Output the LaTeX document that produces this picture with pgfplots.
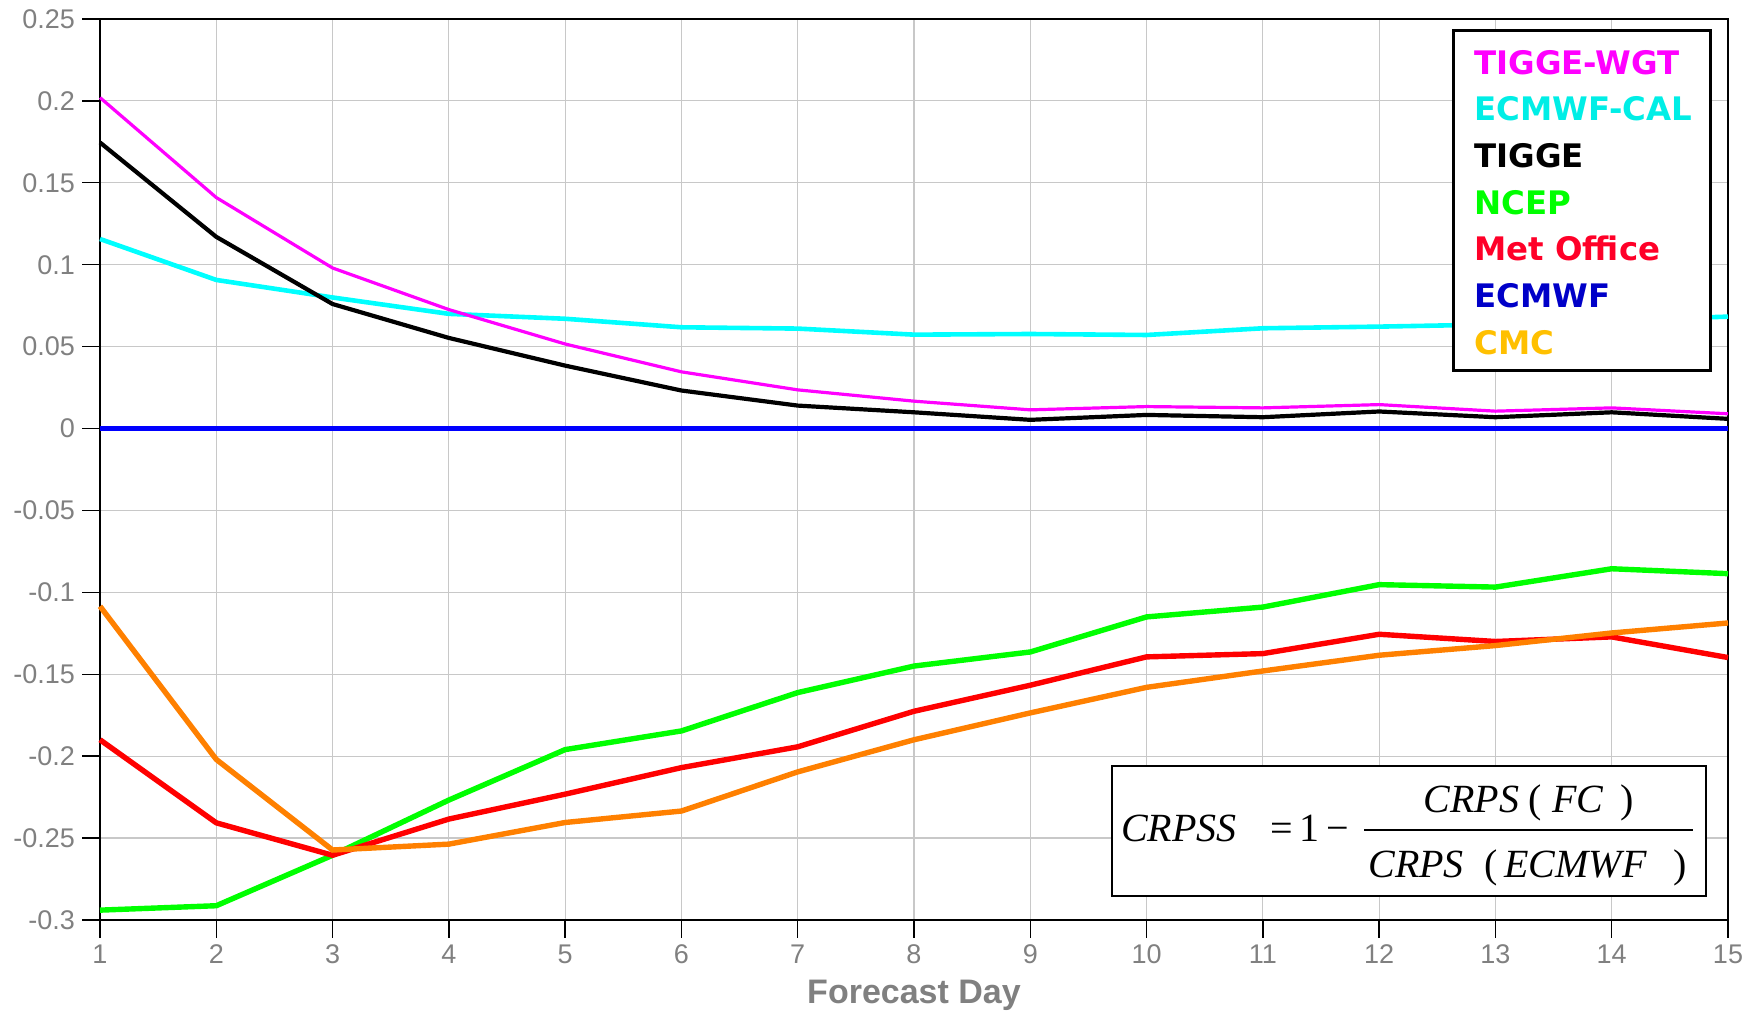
\documentclass[border=0pt]{standalone}
\usepackage{pgfplots}
\pgfplotsset{compat=1.18}
\usepackage{fontspec}
\setmainfont{Liberation Sans}
\newfontfamily\legfont{DejaVu Sans}
\newfontfamily\tnr{Liberation Serif}
\definecolor{tickgray}{RGB}{128,128,128}
\definecolor{gridgray}{RGB}{200,200,200}
\definecolor{cMag}{RGB}{255,0,255}
\definecolor{cCyan}{RGB}{0,255,255}
\definecolor{cGreen}{RGB}{0,255,0}
\definecolor{cRed}{RGB}{255,0,0}
\definecolor{cBlue}{RGB}{0,0,255}
\definecolor{cOrange}{RGB}{255,128,0}
\definecolor{legCyan}{RGB}{0,238,230}
\definecolor{legRed}{RGB}{255,0,40}
\definecolor{legBlue}{RGB}{0,0,200}
\definecolor{legCMC}{RGB}{255,192,0}
\begin{document}
\begin{tikzpicture}
\begin{axis}[name=ax, scale only axis, width=814pt, height=450.5pt,
  /pgf/number format/assume math mode=true,
  xmin=1, xmax=15, ymin=-0.3, ymax=0.25,
  xtick={1,...,15},
  ytick={-0.3,-0.25,-0.2,-0.15,-0.1,-0.05,0,0.05,0.1,0.15,0.2,0.25},
  yticklabels={-0.3,-0.25,-0.2,-0.15,-0.1,-0.05,0,0.05,0.1,0.15,0.2,0.25},
  grid=major, major grid style={gridgray, line width=0.6pt},
  tick align=outside, major tick length=9pt,
  tick style={black, line width=0.7pt},
  xtick pos=left, ytick pos=left,
  axis line style={black, line width=0.7pt},
  ticklabel style={font=\fontsize{13.5}{14}\selectfont, text=tickgray},
  xlabel={Forecast Day},
  xlabel style={at={(axis description cs:0.5,0)}, anchor=base, yshift=-42pt,
    font=\bfseries\fontsize{17}{18}\selectfont, text=tickgray},
  clip=false,
]
\addplot[cCyan, line width=2.3pt] coordinates {(1,0.1157) (2,0.0907) (3,0.080) (4,0.070) (5,0.067) (6,0.0618) (7,0.061) (8,0.0573) (9,0.0577) (10,0.0571) (11,0.0612) (12,0.0622) (13,0.0635) (14,0.066) (15,0.0683)};
\addplot[black, line width=2.1pt] coordinates {(1,0.1746) (2,0.117) (3,0.076) (4,0.0553) (5,0.0384) (6,0.0232) (7,0.014) (8,0.0099) (9,0.0053) (10,0.0083) (11,0.0069) (12,0.0104) (13,0.0069) (14,0.0099) (15,0.0059)};
\addplot[cMag, line width=1.6pt] coordinates {(1,0.202) (2,0.141) (3,0.098) (4,0.0726) (5,0.0516) (6,0.0346) (7,0.0236) (8,0.0167) (9,0.0114) (10,0.0134) (11,0.0126) (12,0.0146) (13,0.0106) (14,0.0126) (15,0.009)};
\addplot[cGreen, line width=2.7pt] coordinates {(1,-0.294) (2,-0.2913) (3,-0.2605) (4,-0.2268) (5,-0.196) (6,-0.1846) (7,-0.1612) (8,-0.145) (9,-0.1364) (10,-0.115) (11,-0.109) (12,-0.0953) (13,-0.0968) (14,-0.0856) (15,-0.0886)};
\addplot[cRed, line width=2.7pt] coordinates {(1,-0.190) (2,-0.2407) (3,-0.2605) (4,-0.2384) (5,-0.2232) (6,-0.207) (7,-0.1943) (8,-0.1726) (9,-0.1567) (10,-0.1394) (11,-0.1374) (12,-0.1256) (13,-0.130) (14,-0.1272) (15,-0.1398)};
\addplot[cOrange, line width=2.7pt] coordinates {(1,-0.1085) (2,-0.202) (3,-0.2573) (4,-0.2537) (5,-0.2405) (6,-0.2335) (7,-0.2096) (8,-0.190) (9,-0.1736) (10,-0.158) (11,-0.148) (12,-0.1384) (13,-0.1325) (14,-0.1248) (15,-0.1187)};
\addplot[cBlue, line width=2.4pt] coordinates {(1,0) (2,0) (3,0) (4,0) (5,0) (6,0) (7,0) (8,0) (9,0) (10,0) (11,0) (12,0) (13,0) (14,0) (15,0)};
\end{axis}
\begin{scope}[shift={(ax.south west)}]
  % legend
  \draw[black, line width=1.5pt, fill=white] (676.5pt,274.5pt) rectangle (805pt,444.5pt);
  \begin{scope}[every node/.style={anchor=base west, inner sep=0pt, font=\legfont\bfseries\fontsize{16.2}{17}\selectfont}]
  \node[text=cMag] at (687pt,422.85pt) {TIGGE-WGT};
  \node[text=legCyan] at (687pt,399.52pt) {ECMWF-CAL};
  \node[text=black] at (687pt,376.19pt) {TIGGE};
  \node[text=cGreen] at (687pt,352.86pt) {NCEP};
  \node[text=legRed] at (687pt,329.53pt) {Met Office};
  \node[text=legBlue] at (687pt,306.2pt) {ECMWF};
  \node[text=legCMC] at (687pt,282.87pt) {CMC};
  \end{scope}
  % formula
  \draw[black, line width=1.1pt, fill=white] (506pt,12pt) rectangle (803pt,77pt);
  \begin{scope}[every node/.style={anchor=base west, inner sep=0pt, font=\tnr\fontsize{20}{22}\selectfont}]
  \node at (510.3pt,39.15pt) {\itshape CRPSS};
  \node at (585pt,39.15pt) {=\,1\,−};
  \node at (661.7pt,53.65pt) {\itshape CRPS};
  \node at (714pt,53.65pt) {(};
  \node at (726pt,53.65pt) {\itshape FC};
  \node at (760pt,53.65pt) {)};
  \node at (634pt,21pt) {\itshape CRPS};
  \node at (692pt,21pt) {(};
  \node at (702pt,21pt) {\itshape ECMWF};
  \node at (786.7pt,21pt) {)};
  \end{scope}
  \draw[black, line width=0.8pt] (632pt,45pt) -- (796.5pt,45pt);
\end{scope}
\pgfresetboundingbox
\path[use as bounding box] ([shift={(-50pt,-45.5pt)}]ax.south west) rectangle ([shift={(9.5pt,9.5pt)}]ax.north east);
\end{tikzpicture}
\end{document}
